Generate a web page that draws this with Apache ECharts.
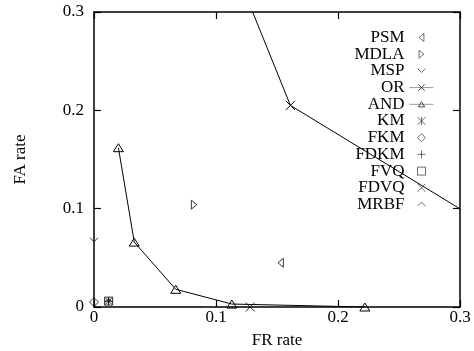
<!DOCTYPE html>
<html>
<head>
<meta charset="utf-8">
<script src="https://cdn.jsdelivr.net/npm/echarts@6/dist/echarts.min.js"></script>
<style>
  html, body { margin: 0; padding: 0; background: #fff; }
  #main { width: 474px; height: 351px; }
</style>
</head>
<body>
<div id="main"></div>
<script>
    // values: [FR rate, FA rate]
    var names = ['PSM', 'MDLA', 'MSP', 'OR', 'AND', 'KM', 'FKM', 'FDKM', 'FVQ', 'FDVQ', 'MRBF'];
    var psm  = [[0.153, 0.045]];
    var mdla = [[0.082, 0.104]];
    var msp  = [[0.0, 0.068]];
    // OR curve runs off both edges of the plot
    var or   = [[0.1235, 0.32], [0.161, 0.205], [0.35, 0.062]];
    var and  = [[0.020, 0.162], [0.033, 0.066], [0.067, 0.018], [0.113, 0.003], [0.222, 0.0]];
    var km   = [[0.012, 0.006]];
    var fkm  = [[0.0, 0.005]];
    var fdkm = [[0.012, 0.006]];
    var fvq  = [[0.012, 0.006]];
    var fdvq = [[0.128, 0.0]];
    var mrbf = [[0.012, 0.006]];

    var font = 'Liberation Serif';
    // all paths padded to a 10x10 box so plot and legend keep the same shape
    var sym = {
        left:  'path://M0,0M8,0L2,5L8,10ZM10,10',
        right: 'path://M0,0M2,0L8,5L2,10ZM10,10',
        vee:   'path://M0,0M0,2L5,7L10,2M10,10',
        cross: 'path://M0,0L10,10M10,0L0,10',
        tri:   'path://M0,0M5,1L10,9L0,9ZM10,10',
        star:  'path://M0,0L10,10M10,0L0,10M5,0L5,10',
        dia:   'path://M5,0L10,5L5,10L0,5Z',
        plus:  'path://M5,0L5,10M0,5L10,5',
        box:   'path://M0,0L10,0L10,10L0,10Z',
        hat:   'path://M0,0M0,7L5,2L10,7M10,10'
    };
    var hollow = { color: 'transparent', borderColor: '#000', borderWidth: 1 };

    function dots(name, data, symbol, size) {
        return {
            name: name, type: 'scatter', data: data,
            symbol: symbol, symbolSize: size,
            itemStyle: hollow, silent: true
        };
    }
    function curve(name, data, symbol, size) {
        return {
            name: name, type: 'line', data: data,
            symbol: symbol, symbolSize: size, showSymbol: true,
            itemStyle: hollow,
            lineStyle: { color: '#000', width: 1 },
            clip: true, silent: true, animation: false
        };
    }

    var fmt = function (v) { return v === 0 ? '0' : v.toFixed(1); };
    var frame = { show: true, onZero: false, lineStyle: { color: '#000', width: 1.5 } };
    var tick = { show: true, inside: true, length: 7, lineStyle: { color: '#000', width: 1.2 } };
    var lbl = { color: '#000', fontFamily: font, fontSize: 17 };

    var myChart = echarts.init(document.getElementById('main'));
    var option = {
        animation: false,
        grid: { left: 94, top: 12, width: 366, height: 295, outerBoundsMode: 'none' },
        legend: {
            data: names,
            orient: 'vertical',
            align: 'right',
            right: 40,
            top: 29,
            padding: 0,
            itemWidth: 24,
            itemHeight: 8,
            itemGap: -0.3,
            selectedMode: false,
            itemStyle: { borderWidth: 0.9, borderColor: '#333' },
            textStyle: { color: '#000', fontFamily: font, fontSize: 17, lineHeight: 16 },
            lineStyle: { color: '#999', width: 1 }
        },
        xAxis: [
            {
                type: 'value', min: 0, max: 0.3, interval: 0.1, position: 'bottom',
                name: 'FR rate', nameLocation: 'middle', nameGap: 25,
                nameTextStyle: lbl,
                axisLine: frame, axisTick: tick, splitLine: { show: false },
                axisLabel: Object.assign({ margin: 2, formatter: fmt }, lbl)
            },
            {
                type: 'value', min: 0, max: 0.3, interval: 0.1, position: 'top',
                axisLine: frame, axisTick: tick, splitLine: { show: false },
                axisLabel: { show: false }
            }
        ],
        yAxis: [
            {
                type: 'value', min: 0, max: 0.3, interval: 0.1, position: 'left',
                name: 'FA rate', nameLocation: 'middle', nameGap: 65,
                nameTextStyle: lbl,
                axisLine: frame, axisTick: tick, splitLine: { show: false },
                axisLabel: Object.assign({ margin: 10, formatter: fmt }, lbl)
            },
            {
                type: 'value', min: 0, max: 0.3, interval: 0.1, position: 'right',
                axisLine: frame, axisTick: tick, splitLine: { show: false },
                axisLabel: { show: false }
            }
        ],
        series: [
            dots('PSM', psm, sym.left, 9),
            dots('MDLA', mdla, sym.right, 9),
            dots('MSP', msp, sym.vee, 8),
            curve('OR', or, sym.cross, 9),
            curve('AND', and, sym.tri, 10),
            dots('KM', km, sym.star, 7),
            dots('FKM', fkm, sym.dia, 9),
            dots('FDKM', fdkm, sym.plus, 8),
            dots('FVQ', fvq, sym.box, 8),
            dots('FDVQ', fdvq, sym.cross, 9),
            dots('MRBF', mrbf, sym.hat, 8)
        ]
    };
    myChart.setOption(option);
</script>
</body>
</html>
